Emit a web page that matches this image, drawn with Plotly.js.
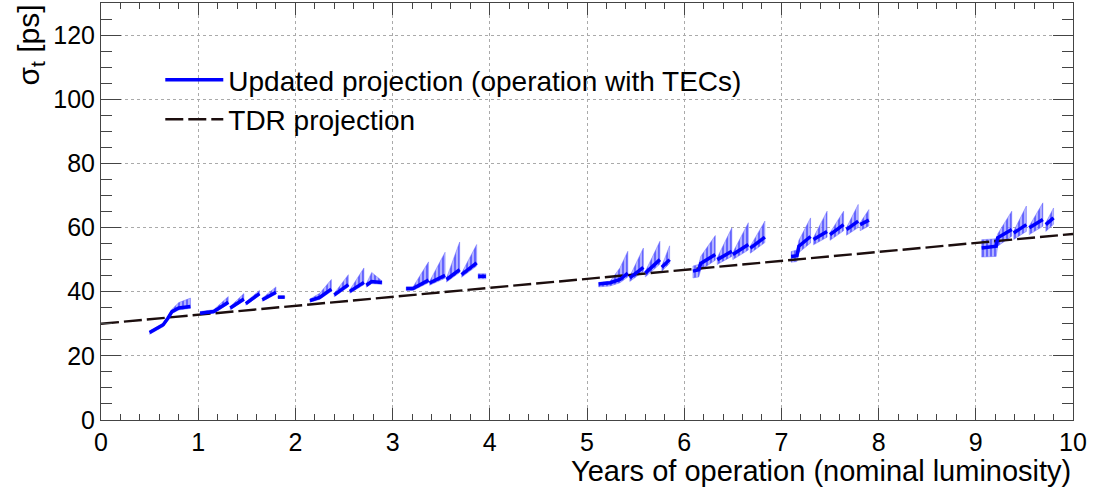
<!DOCTYPE html>
<html>
<head>
<meta charset="utf-8">
<script src="https://cdn.plot.ly/plotly-3.0.1.min.js"></script>
<style>body{margin:0;background:#fff;} #chart{width:1095px;height:487px;}</style>
</head>
<body>
<div id="chart"></div>
<script>
// Updated projection: points grouped by segment id (each segment = one annealing cycle)
const segId  = [1,1,1,1,1,1, 2,2,2, 3,3, 4,4, 5,5, 6,6, 7,7,7, 8,8, 9,9, 10,10,10, 11,11,11, 12,12, 13,13, 14,14, 15,15,
                16,16,16,16, 17,17, 18,18, 19,19, 20,20,20,20, 21,21, 22,22, 23,23, 24,24,24,24, 25,25, 26,26, 27,27, 28,28,
                29,29,29,29, 30,30, 31,31, 32,32];
const years  = [0.50,0.64,0.69,0.73,0.80,0.92, 1.02,1.16,1.31, 1.33,1.47, 1.49,1.63, 1.66,1.80, 1.82,1.89,
                2.15,2.25,2.37, 2.40,2.545, 2.56,2.705, 2.73,2.785,2.89, 3.14,3.21,3.37, 3.38,3.54, 3.555,3.69, 3.71,3.865, 3.88,3.96,
                5.12,5.24,5.34,5.42, 5.44,5.58, 5.60,5.75, 5.77,5.85, 6.09,6.15,6.17,6.32, 6.34,6.49, 6.50,6.66, 6.68,6.83,
                7.10,7.16,7.18,7.30, 7.33,7.47, 7.50,7.64, 7.67,7.79, 7.81,7.90,
                9.06,9.21,9.225,9.37, 9.39,9.52, 9.55,9.69, 9.72,9.80];
const sigma  = [27.3,29.7,31.8,33.8,34.9,35.4, 33.3,33.8,36.7, 34.9,37.7, 36.3,39.4, 37.5,39.8, 38.3,38.3,
                37.2,38.2,40.8, 39.0,42.2, 40.1,42.9, 42.0,43.2,42.9, 41.0,41.0,43.6, 42.7,45.1, 43.8,46.9, 45.3,49.0, 44.8,44.8,
                42.4,42.8,43.8,45.8, 44.3,47.6, 45.8,50.0, 47.6,50.0, 46.4,46.8,48.8,51.6, 50.0,52.6, 51.6,54.7, 53.6,57.0,
                51.0,51.2,54.2,57.2, 56.3,58.8, 57.8,60.9, 59.4,62.0, 60.9,62.3,
                53.6,54.2,56.8,59.4, 58.3,60.9, 59.9,62.5, 60.9,63.0];
const bandLo = [26.7,29.1,31.2,33.2,34.3,34.8, 32.8,33.3,36.1, 34.4,37.1, 35.8,38.8, 37.0,39.2, 38.0,38.0,
                36.7,37.6,40.1, 38.4,41.5, 39.5,42.2, 41.4,42.5,42.3, 40.4,40.4,42.8, 42.0,44.2, 43.0,46.0, 44.5,48.0, 44.0,44.0,
                41.5,41.8,42.8,44.6, 43.2,46.3, 44.6,48.6, 46.4,48.8, 44.3,44.6,46.8,49.8, 48.5,51.0, 50.0,53.0, 52.0,55.3,
                49.2,49.4,52.2,55.2, 54.6,57.0, 56.0,59.0, 57.6,60.0, 59.0,60.5,
                50.8,51.0,54.2,57.3, 56.3,58.8, 57.8,60.4, 58.8,61.0];
const bandHi = [27.8,30.2,32.3,34.5,36.6,38.0, 33.8,34.4,38.5, 35.4,39.4, 36.8,40.4, 38.0,41.5, 38.6,38.6,
                37.7,39.5,43.8, 39.5,45.3, 40.6,47.4, 42.5,46.0,43.4, 41.5,41.5,49.3, 43.2,52.3, 44.3,55.5, 45.8,54.7, 45.6,45.6,
                42.9,43.3,47.5,52.6, 44.8,53.6, 46.3,55.7, 48.1,54.3, 48.0,48.5,51.0,57.5, 50.6,59.9, 52.2,61.5, 54.2,62.0,
                52.5,53.0,56.0,63.0, 56.9,65.1, 58.4,65.1, 60.0,67.2, 61.5,65.6,
                56.2,56.5,58.0,65.1, 58.9,66.7, 60.5,67.7, 61.5,66.1];
// TDR projection
const tdrYears = [0, 10];
const tdrSigma = [30, 58];

// build line (with gaps) and band polygons from the arrays
const lineX = [], lineY = [], polyX = [], polyY = [];
const ids = [...new Set(segId)];
ids.forEach(id => {
  const idx = segId.map((s, i) => s === id ? i : -1).filter(i => i >= 0);
  idx.forEach(i => { lineX.push(years[i]); lineY.push(sigma[i]); });
  lineX.push(null); lineY.push(null);
  idx.forEach(i => { polyX.push(years[i]); polyY.push(bandHi[i]); });
  idx.slice().reverse().forEach(i => { polyX.push(years[i]); polyY.push(bandLo[i]); });
  polyX.push(years[idx[0]]); polyY.push(bandHi[idx[0]]);
  polyX.push(null); polyY.push(null);
});

const FONT = '"Liberation Sans", Arial, Helvetica, sans-serif';
const traces = [
  {x: polyX, y: polyY, type: 'scatter', mode: 'lines', fill: 'toself', connectgaps: false,
   fillcolor: 'rgba(110,110,255,0.6)',
   fillpattern: {shape: '|', size: 4, solidity: 0.4, fgcolor: 'rgba(70,70,255,0.9)', bgcolor: 'rgba(130,130,255,0.62)'},
   line: {width: 0.6, color: 'rgba(110,110,255,0.8)'},
   showlegend: false, hoverinfo: 'skip'},
  {x: tdrYears, y: tdrSigma, type: 'scatter', mode: 'lines', name: 'TDR projection',
   line: {color: '#1c0e0e', width: 2.4, dash: '18px,5px'}},
  {x: lineX, y: lineY, type: 'scatter', mode: 'lines', name: 'Updated projection (operation with TECs)',
   connectgaps: false, line: {color: '#0000ff', width: 3.5}}
];

const axisCommon = {
  showline: true, linecolor: '#444', linewidth: 1, mirror: 'allticks',
  ticks: 'inside', tickcolor: '#444', showgrid: true, gridcolor: '#aaa', griddash: 'dot', gridwidth: 1,
  zeroline: false, tickfont: {family: FONT, size: 25, color: '#000'}
};

const layout = {
  width: 1095, height: 487,
  margin: {l: 101, r: 22, t: 3, b: 67},
  paper_bgcolor: '#fff', plot_bgcolor: '#fff',
  font: {family: FONT, color: '#000'},
  xaxis: Object.assign({}, axisCommon, {range: [0, 10], dtick: 1, tick0: 0, ticklen: 12, ticklabelstandoff: 0,
    minor: {dtick: 0.2, ticks: 'inside', ticklen: 6, tickcolor: '#444', showgrid: false}}),
  yaxis: Object.assign({}, axisCommon, {range: [0, 130], dtick: 20, tick0: 0, ticklen: 20,
    minor: {dtick: 5, ticks: 'inside', ticklen: 11, tickcolor: '#444', showgrid: false}}),
  legend: {x: 0.061, y: 0.875, xanchor: 'left', yanchor: 'top', bgcolor: 'rgba(0,0,0,0)',
    font: {family: FONT, size: 28, color: '#000'}, itemwidth: 58, traceorder: 'reversed'},
  annotations: [
    {text: 'Years of operation (nominal luminosity)', xref: 'paper', yref: 'paper', x: 1, y: -0.122,
     xanchor: 'right', yanchor: 'middle', showarrow: false, font: {family: FONT, size: 29, color: '#000'}},
    {text: 'σ<sub>t</sub> [ps]', xref: 'paper', yref: 'paper', x: -0.073, y: 1.0, textangle: -90,
     xanchor: 'center', yanchor: 'top', showarrow: false, font: {family: FONT, size: 30, color: '#000'}}
  ]
};

Plotly.newPlot('chart', traces, layout, {displayModeBar: false, staticPlot: true});
</script>
</body>
</html>
